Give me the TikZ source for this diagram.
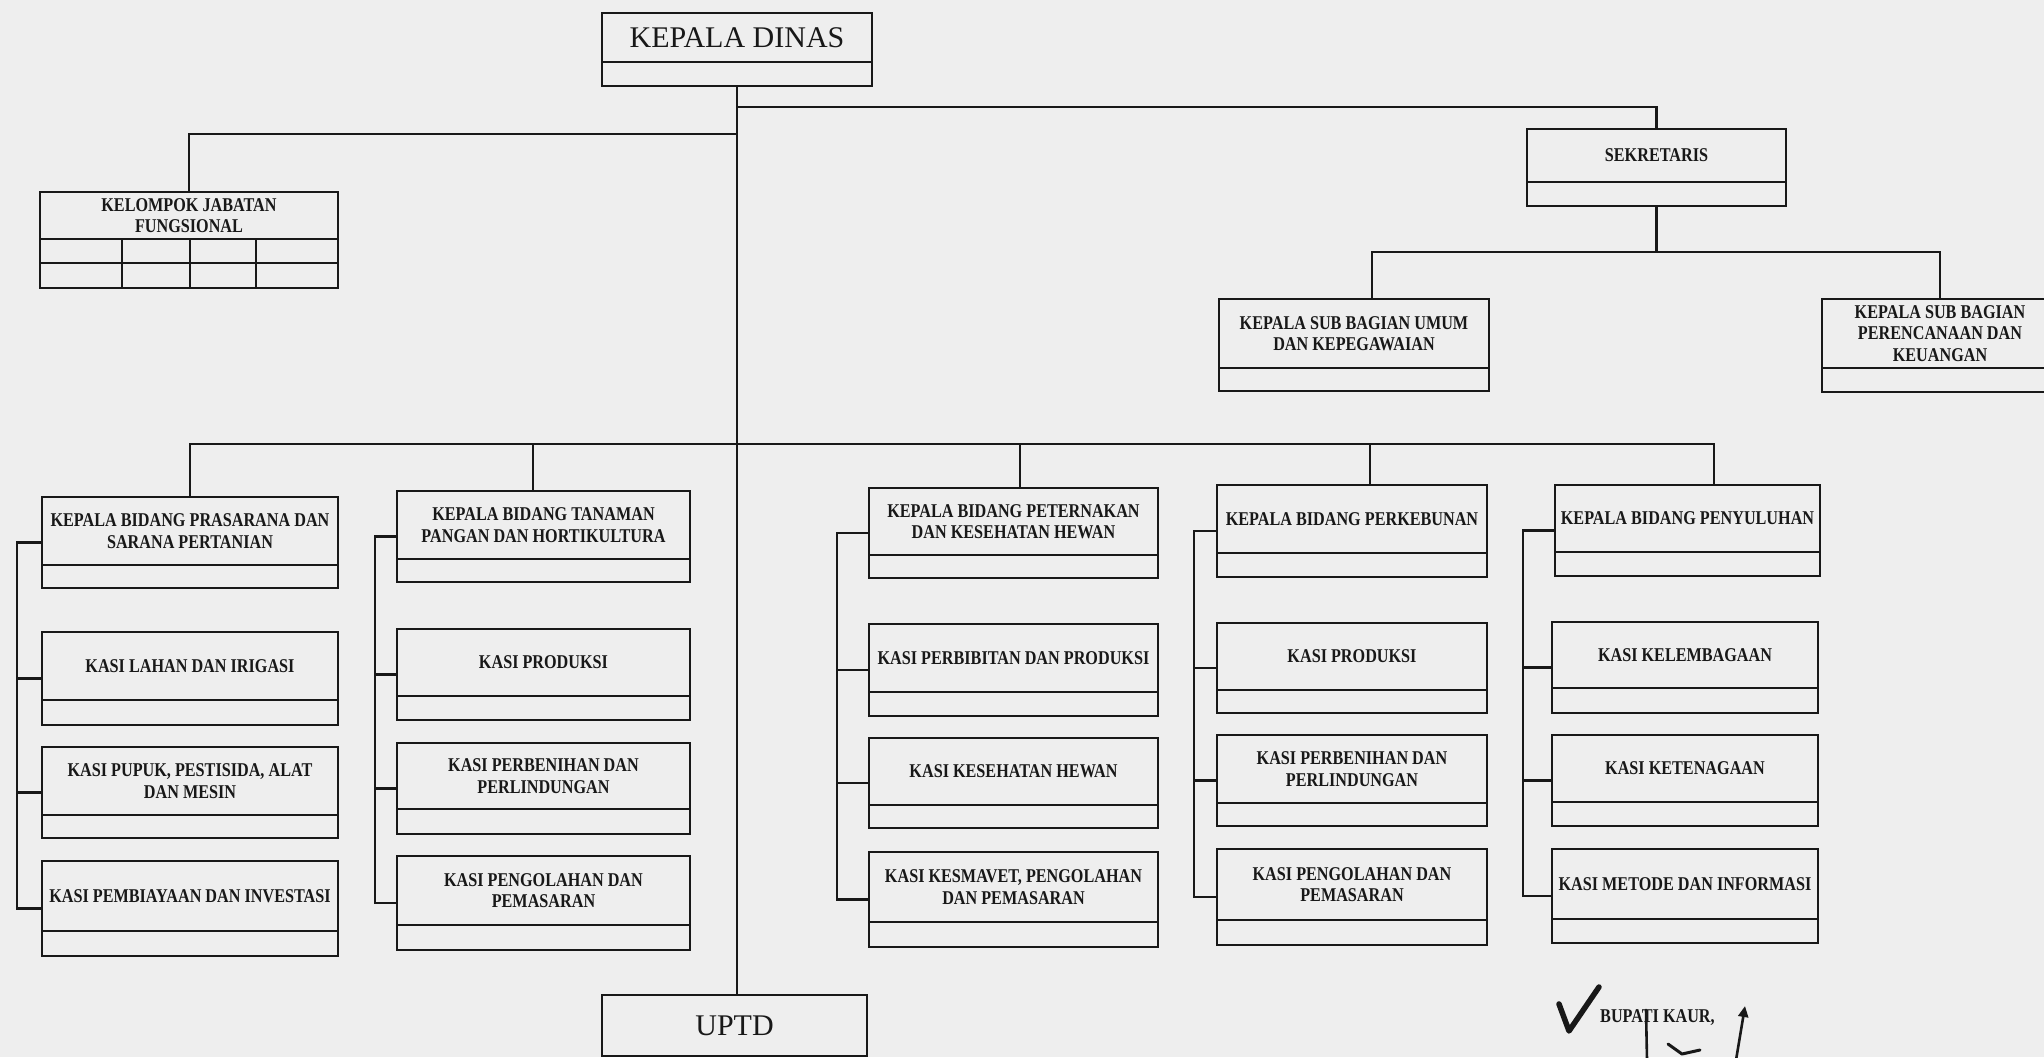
\documentclass[tikz,border=0pt]{standalone}
\usepackage{fontspec}
\setmainfont{Liberation Serif}
\newfontfamily\labelfamily[FakeStretch=0.83]{Liberation Serif}
\usetikzlibrary{arrows.meta}
\definecolor{paper}{RGB}{238,238,238}
\definecolor{ink}{RGB}{24,24,24}

% \obox{name}{x1}{y1}{x2}{y2}{y of divider}{label style}{label}
\newcommand\obox[8]{%
  \node[boxframe, minimum width={(#4)-(#2)}, minimum height={(#5)-(#3)},
        anchor=north west] (#1) at (#2,#3) {};
  \draw[rule] (#2,#6) -- (#4,#6);
  \node[#7] (#1-txt) at ({(#2+#4)/2},{(#3+#6)/2}) {#8};
}

\begin{document}
\begin{tikzpicture}[x=1pt, y=-1pt,
  boxframe/.style={draw=ink, line width=2.9pt, inner sep=0pt, outer sep=0pt},
  rule/.style={draw=ink, line width=2.7pt},
  link/.style={draw=ink, line width=2.7pt},
  small/.style={font=\labelfamily\bfseries\fontsize{19.5}{21.5}\selectfont,
                align=center, inner sep=0pt, text=ink},
  big/.style={font=\rmfamily\fontsize{30}{34}\selectfont, inner sep=0pt, text=ink},
  pen/.style={draw=ink, line cap=round, line join=round}]

\fill[paper] (0,0) rectangle (2044,1057);
\useasboundingbox (0,0) rectangle (2044,1057);

% top level
\obox{kd}{602}{13}{872}{86}{62}{big}{KEPALA DINAS}
\obox{kjf}{40}{192}{338}{288}{239}{small}{KELOMPOK JABATAN\\FUNGSIONAL}
\draw[rule] (40,263) -- (338,263);
\foreach \cx in {122,190,256} \draw[rule] (\cx,239) -- (\cx,288);
\obox{sek}{1527}{129}{1786}{206}{182}{small}{SEKRETARIS}
\obox{ksu}{1219}{299}{1489}{391}{368}{small}{KEPALA SUB BAGIAN UMUM\\DAN KEPEGAWAIAN}
\obox{ksp}{1822}{299}{2058}{392}{368}{small}{KEPALA SUB BAGIAN\\PERENCANAAN DAN\\KEUANGAN}

% heads of divisions
\obox{b1}{42}{497}{338}{588}{565}{small}{KEPALA BIDANG PRASARANA DAN\\SARANA PERTANIAN}
\obox{b2}{397}{491}{690}{582}{559}{small}{KEPALA BIDANG TANAMAN\\PANGAN DAN HORTIKULTURA}
\obox{b3}{869}{488}{1158}{578}{555}{small}{KEPALA BIDANG PETERNAKAN\\DAN KESEHATAN HEWAN}
\obox{b4}{1217}{485}{1487}{577}{553}{small}{KEPALA BIDANG PERKEBUNAN}
\obox{b5}{1555}{485}{1820}{576}{552}{small}{KEPALA BIDANG PENYULUHAN}

% sections
\obox{k11}{42}{632}{338}{725}{700}{small}{KASI LAHAN DAN IRIGASI}
\obox{k12}{42}{747}{338}{838}{815}{small}{KASI PUPUK, PESTISIDA, ALAT\\DAN MESIN}
\obox{k13}{42}{861}{338}{956}{931}{small}{KASI PEMBIAYAAN DAN INVESTASI}

\obox{k21}{397}{629}{690}{720}{696}{small}{KASI PRODUKSI}
\obox{k22}{397}{743}{690}{834}{809}{small}{KASI PERBENIHAN DAN\\PERLINDUNGAN}
\obox{k23}{397}{856}{690}{950}{925}{small}{KASI PENGOLAHAN DAN\\PEMASARAN}

\obox{k31}{869}{624}{1158}{716}{692}{small}{KASI PERBIBITAN DAN PRODUKSI}
\obox{k32}{869}{738}{1158}{828}{805}{small}{KASI KESEHATAN HEWAN}
\obox{k33}{869}{852}{1158}{947}{922}{small}{KASI KESMAVET, PENGOLAHAN\\DAN PEMASARAN}

\obox{k41}{1217}{623}{1487}{713}{690}{small}{KASI PRODUKSI}
\obox{k42}{1217}{735}{1487}{826}{803}{small}{KASI PERBENIHAN DAN\\PERLINDUNGAN}
\obox{k43}{1217}{849}{1487}{945}{920}{small}{KASI PENGOLAHAN DAN\\PEMASARAN}

\obox{k51}{1552}{622}{1818}{713}{688}{small}{KASI KELEMBAGAAN}
\obox{k52}{1552}{735}{1818}{826}{802}{small}{KASI KETENAGAAN}
\obox{k53}{1552}{849}{1818}{943}{919}{small}{KASI METODE DAN INFORMASI}

\obox{uptd}{602}{995}{867}{1056}{1056}{big}{UPTD}

% trunk and upper branches
\coordinate (lvlL) at (0,134);
\coordinate (lvlR) at (0,107);
\coordinate (lvlS) at (0,252);
\draw[link] (kd.south) -- (kd.south |- uptd.north);
\draw[link] (kd.south |- lvlL) -| (kjf.north);
\draw[link] (kd.south |- lvlR) -| (sek.north);
\coordinate (dU) at (1372,252);
\draw[link] (sek.south) -- (sek.south |- lvlS);
\draw[link] (dU |- ksu.north) -- (dU) -| (ksp.north);

% bus to the divisions
\coordinate (d2) at (533,444);
\coordinate (d3) at (1020,444);
\coordinate (d4) at (1370,444);
\coordinate (d5) at (1714,444);
\draw[link] (b1.north) |- (d5) -- (d5 |- b5.north);
\draw[link] (d2) -- (d2 |- b2.north);
\draw[link] (d3) -- (d3 |- b3.north);
\draw[link] (d4) -- (d4 |- b4.north);

% brackets from each head to its sections
\coordinate (r1) at (17,0);
\coordinate (r2) at (375,0);
\coordinate (r3) at (837,0);
\coordinate (r4) at (1194,0);
\coordinate (r5) at (1523,0);
\foreach \c in {1,...,5}{
  \draw[link] (b\c.west) -| (r\c |- k\c3.west) -- (k\c3.west);
  \draw[link] (k\c1.west) -- (k\c1.west -| r\c);
  \draw[link] (k\c2.west) -- (k\c2.west -| r\c);
}

% signature block
\node[small, anchor=west] (bupati) at (1600,1018) {BUPATI KAUR,};
\draw[pen, line width=5.5pt] (1559,1004) -- (1569,1031) -- (1599,987);
\draw[pen, line width=2.6pt] (1646,1010) -- (1647,1060);
\draw[pen, line width=2.6pt, -{Triangle[width=10pt,length=11pt]}] (1736,1060) -- (1745,1006);
\draw[pen, line width=3pt] (1668,1044) -- (1682,1054) -- (1700,1050);
\end{tikzpicture}
\end{document}
